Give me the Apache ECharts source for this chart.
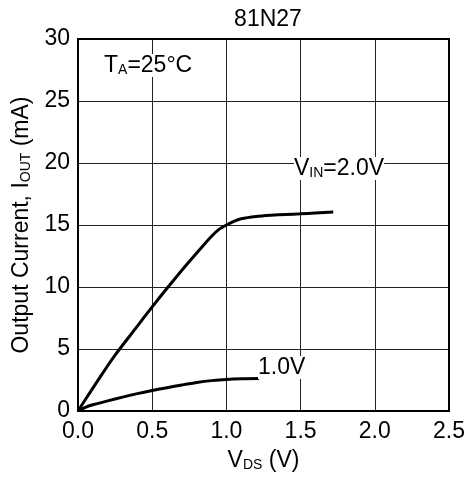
<!DOCTYPE html>
<html>
<head>
<meta charset="utf-8">
<script src="https://cdn.jsdelivr.net/npm/echarts@6/dist/echarts.min.js"></script>
<style>
  html, body { margin: 0; padding: 0; background: #fff; }
</style>
</head>
<body>
<div id="chart" style="width:470px;height:477px;"></div>
<script>
// x ticks (V) and y ticks (mA)
const xTicks = [0.0, 0.5, 1.0, 1.5, 2.0, 2.5];
const yTicks = [0, 5, 10, 15, 20, 25, 30];

// V_IN = 2.0V curve: [VDS, IOUT]
const vin20 = [
  [0, 0], [0.1, 1.85], [0.2, 3.65], [0.25, 4.5], [0.3, 5.3], [0.35, 6.07],
  [0.4, 6.85], [0.5, 8.4], [0.6, 9.9], [0.7, 11.35], [0.8, 12.75],
  [0.9, 14.1], [0.95, 14.65], [1.0, 15.0], [1.05, 15.3], [1.1, 15.5],
  [1.2, 15.68], [1.3, 15.78], [1.4, 15.85], [1.5, 15.9], [1.6, 15.97],
  [1.72, 16.05]
];
// V_IN = 1.0V curve
const vin10 = [
  [0, 0], [0.05, 0.3], [0.1, 0.5], [0.2, 0.82], [0.3, 1.12], [0.4, 1.4],
  [0.5, 1.65], [0.6, 1.88], [0.7, 2.1], [0.8, 2.3], [0.9, 2.45],
  [1.0, 2.55], [1.1, 2.6], [1.22, 2.62]
];

const chart = echarts.init(document.getElementById('chart'));
const font = 'Liberation Sans, Arial, Helvetica, sans-serif';
const FS = 23;   // main text size
const SUB = 14;  // subscript size

const rich = {
  n: { fontSize: FS, fontFamily: font, color: '#000' },
  s: { fontSize: SUB, fontFamily: font, color: '#000', padding: [9, 0, 0, 0] }
};
const richG = {
  n: { fontSize: FS, fontFamily: font, fill: '#000' },
  s: { fontSize: SUB, fontFamily: font, fill: '#000', padding: [9, 0, 0, 0] }
};

const option = {
  animation: false,
  backgroundColor: '#fff',
  textStyle: { fontFamily: font, color: '#000' },
  title: {
    text: '81N27',
    left: 263,
    top: 3,
    textAlign: 'center',
    textStyle: { fontSize: FS, fontWeight: 'normal', color: '#000', fontFamily: font }
  },
  grid: { left: 78, right: 21, top: 39, bottom: 66, containLabel: false },
  xAxis: {
    type: 'value',
    min: 0, max: 2.5, interval: 0.5,
    name: '{n|V}{s|DS}{n| (V)}',
    nameLocation: 'middle',
    nameGap: 38,
    nameTextStyle: { rich: rich },
    axisLine: { show: true, onZero: false, lineStyle: { color: '#000', width: 2 } },
    axisTick: { show: false },
    splitLine: { show: true, lineStyle: { color: '#222', width: 1 } },
    axisLabel: {
      fontSize: FS, color: '#000', fontFamily: font, margin: 9,
      formatter: v => v.toFixed(1)
    }
  },
  yAxis: {
    type: 'value',
    min: 0, max: 30, interval: 5,
    name: '{n|Output Current, I}{s|OUT}{n| (mA)}',
    nameLocation: 'middle',
    nameGap: 44,
    nameRotate: 90,
    nameTextStyle: { rich: rich },
    axisLine: { show: true, lineStyle: { color: '#000', width: 2 } },
    axisTick: { show: false },
    splitLine: { show: true, lineStyle: { color: '#222', width: 1 } },
    axisLabel: { fontSize: FS, color: '#000', fontFamily: font, margin: 8 }
  },
  graphic: [
    // right / top frame
    {
      type: 'rect',
      shape: { x: 78, y: 39, width: 371, height: 372 },
      style: { fill: null, stroke: '#000', lineWidth: 2 },
      silent: true, z: 10
    },
    {
      type: 'text',
      left: 104, top: 54,
      style: { text: '{n|T}{s|A}{n|=25°C}', rich: richG, backgroundColor: '#fff' },
      z: 20
    },
    {
      type: 'text',
      left: 294, top: 157,
      style: { text: '{n|V}{s|IN}{n|=2.0V}', rich: richG, backgroundColor: '#fff' },
      z: 20
    },
    {
      type: 'text',
      left: 258, top: 356,
      style: {
        text: '1.0V',
        fontSize: FS, fontFamily: font, fill: '#000',
        backgroundColor: '#fff'
      },
      z: 20
    }
  ],
  series: [
    {
      name: 'VIN=2.0V',
      type: 'line',
      data: vin20,
      smooth: 0.2,
      symbol: 'none',
      lineStyle: { color: '#000', width: 3 },
      z: 5
    },
    {
      name: 'VIN=1.0V',
      type: 'line',
      data: vin10,
      smooth: 0.3,
      symbol: 'none',
      lineStyle: { color: '#000', width: 3 },
      z: 5
    }
  ]
};

chart.setOption(option);
</script>
</body>
</html>
